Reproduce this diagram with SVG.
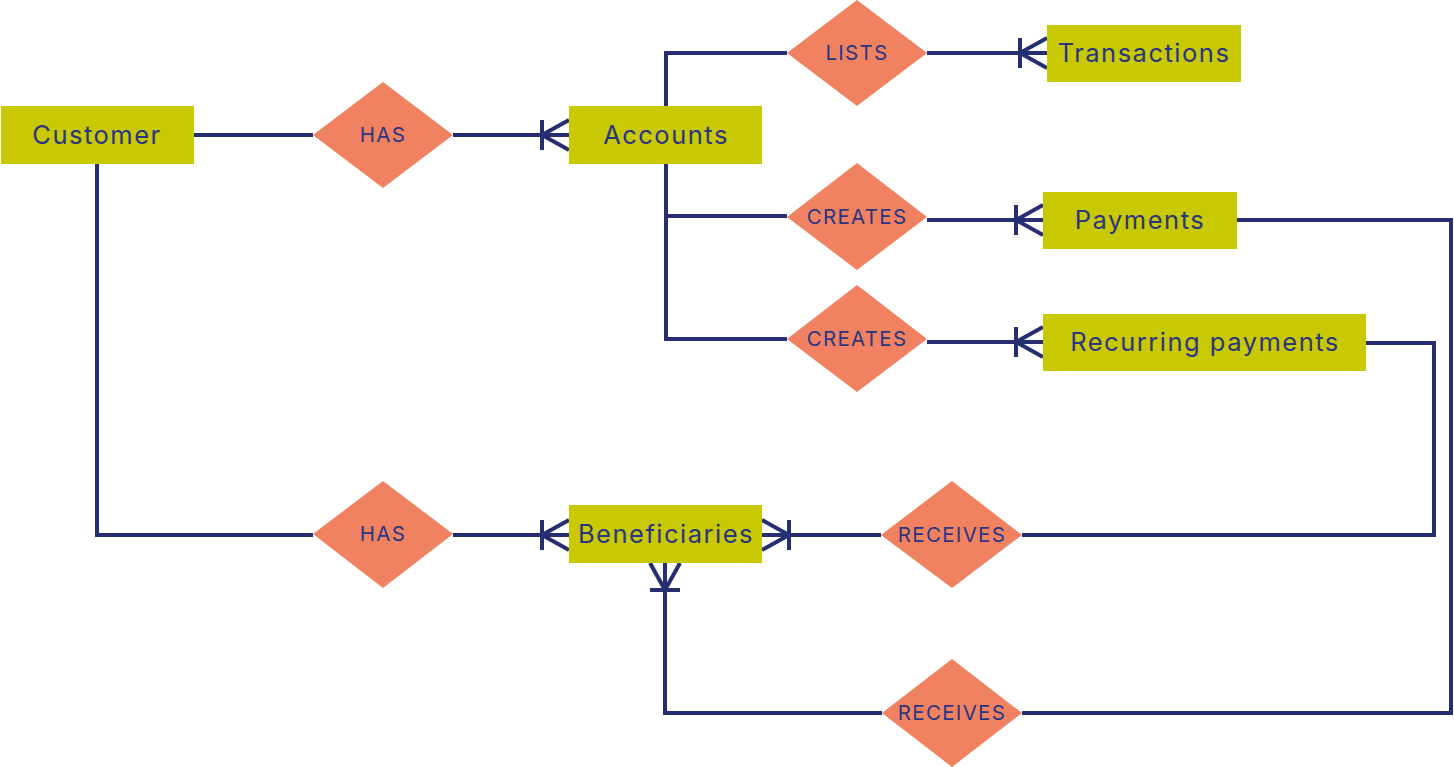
<svg xmlns="http://www.w3.org/2000/svg" width="1454" height="767" viewBox="0 0 1454 767">
<style>
.ent{fill:#C8C903}
.rel{fill:#F08262}
.et{font-family:Inter,"Liberation Sans",sans-serif;font-size:25.5px;fill:#2B3580;text-anchor:middle;letter-spacing:1.5px}
.rt{font-family:Inter,"Liberation Sans",sans-serif;font-size:20.5px;fill:#2B3580;text-anchor:middle;letter-spacing:1.3px}
.ln{fill:none;stroke:#262E72;stroke-width:4;stroke-linejoin:miter}
</style>
<defs>
<marker id="crow" markerUnits="userSpaceOnUse" viewBox="-32 -18 34 36" refX="0" refY="0" markerWidth="34" markerHeight="36" orient="auto" overflow="visible">
<path d="M-27,-15 V15 M-27,0 L0,-15 M-27,0 L0,15 M-27,0 H0" fill="none" stroke="#262E72" stroke-width="4"/>
</marker>
</defs>
<rect width="1454" height="767" fill="#FFFFFF"/>
<g id="connectors">
<path class="ln" d="M194,135 H313"/>
<path class="ln" d="M453,135 H569" marker-end="url(#crow)"/>
<path class="ln" d="M666,106 V53 H787"/>
<path class="ln" d="M927,53 H1047" marker-end="url(#crow)"/>
<path class="ln" d="M666,164 V339 H787"/>
<path class="ln" d="M666,216 H787"/>
<path class="ln" d="M927,220 H1043" marker-end="url(#crow)"/>
<path class="ln" d="M927,342 H1043" marker-end="url(#crow)"/>
<path class="ln" d="M1237,220 H1451 V713 H1022"/>
<path class="ln" d="M1366,343 H1434 V535 H1022"/>
<path class="ln" d="M881,535 H762" marker-end="url(#crow)"/>
<path class="ln" d="M882,713 H665 V563" marker-end="url(#crow)"/>
<path class="ln" d="M97,164 V535 H313"/>
<path class="ln" d="M453,535 H569" marker-end="url(#crow)"/>
</g>
<g id="customer"><rect class="ent" x="1" y="106" width="193" height="58"/><text class="et" x="97" y="144">Customer</text></g>
<g id="accounts"><rect class="ent" x="569" y="106" width="193" height="58"/><text class="et" x="666" y="144">Accounts</text></g>
<g id="transactions"><rect class="ent" x="1047" y="25" width="194" height="57"/><text class="et" x="1144" y="62">Transactions</text></g>
<g id="payments"><rect class="ent" x="1043" y="192" width="194" height="57"/><text class="et" x="1140" y="229">Payments</text></g>
<g id="recurring-payments"><rect class="ent" x="1043" y="314" width="323" height="57"/><text class="et" x="1205" y="351">Recurring payments</text></g>
<g id="beneficiaries"><rect class="ent" x="569" y="505" width="193" height="58"/><text class="et" x="666" y="543">Beneficiaries</text></g>
<g id="has-1"><polygon class="rel" points="383,82 453,135 383,188 313,135"/><text class="rt" x="383" y="142">HAS</text></g>
<g id="lists"><polygon class="rel" points="857,0 927,53 857,106 787,53"/><text class="rt" x="857" y="60">LISTS</text></g>
<g id="creates-1"><polygon class="rel" points="857,163 927,217 857,270 787,217"/><text class="rt" x="857" y="224">CREATES</text></g>
<g id="creates-2"><polygon class="rel" points="857,285 927,339 857,392 787,339"/><text class="rt" x="857" y="346">CREATES</text></g>
<g id="has-2"><polygon class="rel" points="383,481 453,534 383,588 313,534"/><text class="rt" x="383" y="541">HAS</text></g>
<g id="receives-1"><polygon class="rel" points="952,481 1022,535 952,588 881,535"/><text class="rt" x="952" y="542">RECEIVES</text></g>
<g id="receives-2"><polygon class="rel" points="952,659 1022,713 952,767 882,713"/><text class="rt" x="952" y="720">RECEIVES</text></g>
</svg>
